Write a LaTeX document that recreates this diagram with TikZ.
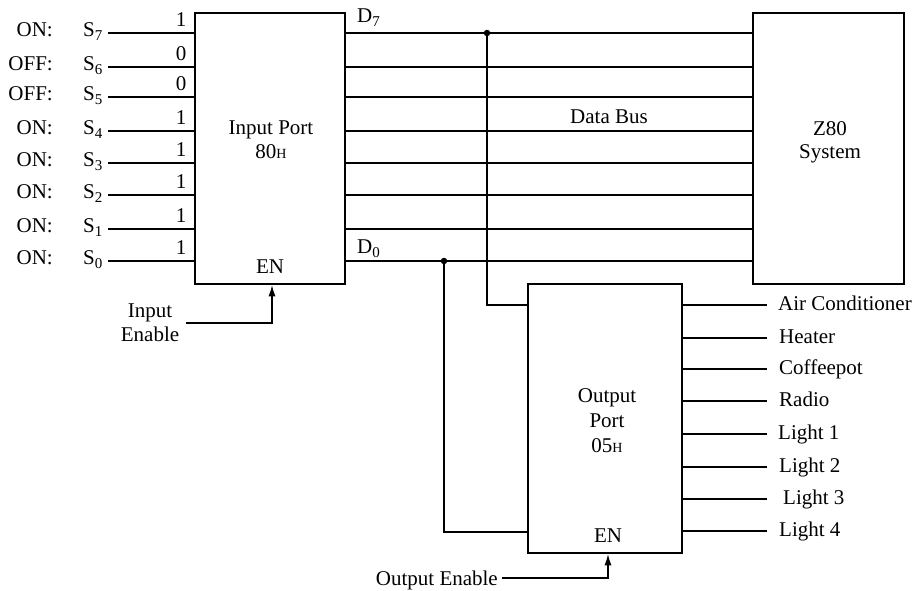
\documentclass[tikz,border=0pt]{standalone}
\usepackage{fontspec}
\setmainfont{Liberation Serif}
\usetikzlibrary{arrows.meta}
\newcommand\sbs[1]{\raisebox{-4.5pt}{\fontsize{15}{15}\selectfont #1}}
\newcommand\smh{{\fontsize{14}{14}\selectfont H}}
\begin{document}
\begin{tikzpicture}[x=1pt,y=-1pt,
  every node/.style={inner sep=0pt, font=\fontsize{21}{24}\selectfont},
  box/.style={draw, line width=2.6pt, rectangle},
  wire/.style={line width=1.1pt},
  enarrow/.style={wire, -{Latex[length=11pt,width=7pt]}},
  dot/.style={circle, fill, inner sep=0pt, minimum size=6.5pt}]
\useasboundingbox (0,0) rectangle (916,590);

% boxes
\node[box, minimum width=150pt, minimum height=271pt] (inp) at (270,148.5) {};
\node[box, minimum width=151pt, minimum height=271pt] (z80) at (828.5,148.5) {};
\node[box, minimum width=154pt, minimum height=269pt] (outp) at (605,418.5) {};

% box texts
\node[align=center] (inptxt) at (271,140) {Input Port\\80\smh};
\node[align=center, font=\fontsize{21}{23}\selectfont] (z80txt) at (830,142) {Z80\\System};
\node[align=center, font=\fontsize{21}{25}\selectfont] (outtxt) at (607,421) {Output\\Port\\05\smh};
\node[anchor=base] (inen) at (270,273) {EN};
\node[anchor=base] (outen) at (608,542) {EN};

% switch inputs and data bus
\foreach \y/\st/\s/\b in {33/ON:/7/1,67/OFF:/6/0,97/OFF:/5/0,131/ON:/4/1,163/ON:/3/1,195/ON:/2/1,229/ON:/1/1,261/ON:/0/1}{
  \node[anchor=base east] (st\s) at (53,\y+3) {\st};
  \node[anchor=base west] (sl\s) at (83,\y+3) {S\sbs{\s}};
  \node[anchor=base] (bit\s) at (181,\y-6.5) {\b};
  \coordinate (sw\s) at (108,\y);
  \draw[wire] (sw\s) -- (sw\s -| inp.west);
  \draw[wire] (sw\s -| inp.east) -- (sw\s -| z80.west);
}

\node[anchor=base west] (d7) at (357,22) {D\sbs{7}};
\node[anchor=base west] (d0) at (357,253) {D\sbs{0}};
\node[anchor=base west] (dbus) at (570,123) {Data Bus};

% taps to output port
\node[dot] (j7) at (487,33) {};
\node[dot] (j0) at (444,261) {};
\coordinate (tap7) at (0,305);
\coordinate (tap0) at (0,532);
\draw[wire] (j7.center) |- (outp.west |- tap7);
\draw[wire] (j0.center) |- (outp.west |- tap0);

% outputs
\foreach \y/\t/\n/\x in {305/Air Conditioner/1/778,338/Heater/2/779,369/Coffeepot/3/779,401/Radio/4/779,434/Light 1/5/778,467/Light 2/6/779,499/Light 3/7/783,531/Light 4/8/779}{
  \coordinate (oy\n) at (0,\y);
  \coordinate (oe\n) at (767,\y);
  \draw[wire] (outp.east |- oy\n) -- (oe\n);
  \node[anchor=base west] (ol\n) at (\x,\y+5) {\t};
}

% enables
\node[align=center] (ie) at (150,322.4) {Input\\Enable};
\coordinate (iea) at (186,323);
\draw[enarrow] (iea) -| ([xshift=2pt]inp.south);
\node[anchor=base east] (oen) at (498,585) {Output Enable};
\coordinate (oea) at (502,578);
\draw[enarrow] (oea) -| ([xshift=3pt]outp.south);
\end{tikzpicture}
\end{document}
